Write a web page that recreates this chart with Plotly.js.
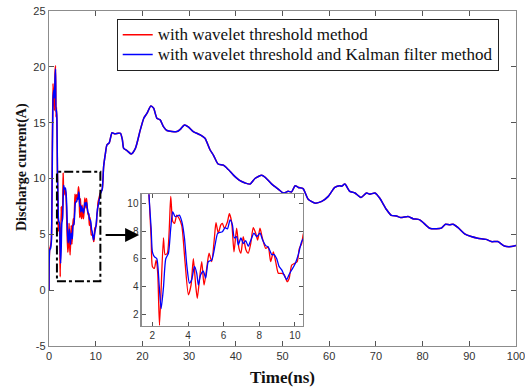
<!DOCTYPE html>
<html>
<head>
<meta charset="utf-8">
<script src="https://cdn.plot.ly/plotly-3.0.1.min.js"></script>
<style>html,body{margin:0;padding:0;background:#fff;}#chart{width:525px;height:388px;}</style>
</head>
<body>
<div id="chart"></div>
<script>
// ---- data ----
const seriesNames = ["with wavelet threshold method", "with wavelet threshold and Kalman filter method"];
const xTitle = "Time(ns)";
const yTitle = "Discharge current(A)";

// initial spike (0 - 1.7 ns)
const tEarly    = [0, 0.15, 0.3, 0.5, 0.65, 0.85, 1.0, 1.15, 1.3, 1.4, 1.5, 1.6, 1.7];
const redEarly  = [0, 3.7, 3.9, 4.5, 9.0, 18.5, 17.5, 16.1, 19.5, 20.1, 15.5, 16.4, 14.6];
const blueEarly = [0, 3.6, 3.7, 4.3, 8.5, 17.0, 17.9, 17.2, 19.0, 19.8, 16.0, 16.2, 15.3];

// oscillating region (zoomed in the inset), red series
const tRedMid = [1.81, 1.93, 2.0, 2.11, 2.21, 2.3, 2.4, 2.62, 2.71, 2.84, 3.03, 3.14, 3.24, 3.37, 3.5, 3.65, 3.83, 4.02, 4.17, 4.3, 4.43, 4.52, 4.67, 4.77, 4.9, 5.05, 5.18, 5.33, 5.48, 5.57, 5.7, 5.84, 5.93, 6.04, 6.21, 6.32, 6.45, 6.58, 6.73, 6.86, 6.97, 7.1, 7.25, 7.38, 7.52, 7.66, 7.8, 7.91, 8.04, 8.17, 8.36, 8.5, 8.64, 8.79, 8.92, 9.07, 9.26, 9.4, 9.57, 9.68, 9.82, 9.96, 10.13, 10.25, 10.38, 10.49, 10.75, 11.0];
const redMid  = [10.6, 7.5, 5.45, 5.3, 5.9, 4.95, 1.2, 7.5, 6.3, 6.4, 10.5, 8.7, 8.55, 9.15, 8.9, 8.4, 5.8, 3.4, 4.1, 6.0, 4.1, 3.15, 4.85, 5.8, 4.1, 5.3, 6.4, 5.8, 7.5, 8.6, 7.85, 8.45, 8.55, 8.2, 8.65, 9.25, 8.65, 6.5, 8.2, 6.75, 6.4, 7.6, 6.65, 6.4, 7.1, 8.25, 7.85, 7.35, 8.2, 7.5, 6.75, 6.85, 5.8, 6.5, 5.8, 4.95, 4.95, 4.85, 4.35, 4.6, 5.55, 5.65, 5.8, 6.75, 7.1, 7.85, 8.3, 8.7];

// oscillating region (zoomed in the inset), blue series
const tBlueMid = [1.81, 1.93, 2.0, 2.11, 2.25, 2.38, 2.49, 2.62, 2.75, 2.9, 3.03, 3.14, 3.27, 3.4, 3.51, 3.65, 3.8, 3.93, 4.08, 4.21, 4.36, 4.49, 4.58, 4.71, 4.86, 4.99, 5.14, 5.33, 5.52, 5.67, 5.93, 6.08, 6.21, 6.36, 6.49, 6.6, 6.73, 6.82, 6.97, 7.1, 7.24, 7.38, 7.53, 7.7, 7.86, 8.04, 8.19, 8.36, 8.5, 8.7, 8.83, 8.98, 9.11, 9.26, 9.4, 9.54, 9.67, 9.82, 10.0, 10.19, 10.38, 10.6, 11.0];
const blueMid  = [10.6, 8.2, 6.5, 6.15, 6.0, 4.1, 2.4, 3.9, 6.0, 6.4, 8.2, 9.4, 9.05, 9.1, 9.15, 8.7, 7.5, 5.55, 4.25, 4.5, 5.45, 4.95, 4.1, 4.85, 5.1, 4.6, 5.8, 5.9, 7.0, 7.85, 7.95, 8.25, 8.15, 8.8, 8.45, 7.5, 7.6, 7.0, 7.5, 7.1, 7.3, 6.9, 7.35, 7.85, 7.6, 7.85, 7.35, 6.95, 6.85, 6.3, 6.3, 6.0, 5.45, 5.2, 4.8, 4.5, 4.85, 5.2, 5.6, 6.3, 7.25, 7.7, 8.6];

// smooth decay (11.4 - 100 ns), both methods coincide
const tTail = [11.4, 11.7, 12.1, 12.4, 12.9, 13.5, 14.1, 14.8, 15.3, 15.7, 16.0, 16.7, 17.6, 18.5, 19.55, 20.3, 21.0, 21.8, 22.4, 23.1, 23.8, 24.5, 25.25, 27.4, 28.1, 29.0, 29.9, 30.9, 32.4, 33.4, 34.5, 35.2, 36.2, 37.35, 38.4, 39.5, 40.9, 42.0, 43.05, 44.1, 45.55, 46.3, 47.7, 49.1, 50.2, 51.2, 51.95, 52.7, 53.4, 54.4, 55.5, 56.9, 58.4, 59.8, 61.2, 62.3, 62.65, 63.35, 64.4, 65.5, 66.8, 68.0, 68.7, 69.8, 70.8, 72.3, 73.3, 74.4, 75.3, 76.9, 77.95, 79.4, 81.5, 82.95, 84.0, 84.9, 85.8, 86.5, 87.6, 89.0, 90.4, 91.8, 93.6, 94.7, 96.1, 97.5, 99.0, 100];
const iTail = [9.05, 11.07, 12.3, 13.0, 13.2, 14.1, 14.0, 14.05, 14.05, 13.5, 12.7, 12.5, 12.2, 12.7, 14.35, 15.4, 15.85, 16.5, 16.3, 15.4, 15.25, 14.65, 14.3, 14.2, 14.4, 14.8, 14.6, 14.2, 13.9, 13.6, 12.55, 12.1, 11.3, 11.2, 10.8, 10.3, 9.8, 9.6, 9.5, 10.0, 10.3, 10.1, 9.5, 9.05, 8.7, 8.85, 8.8, 9.35, 9.2, 9.1, 8.15, 7.8, 7.95, 8.4, 9.2, 9.35, 9.3, 9.5, 8.85, 8.7, 8.3, 8.7, 8.6, 8.7, 8.25, 7.2, 6.7, 6.65, 6.5, 6.6, 6.4, 6.3, 5.55, 5.5, 5.55, 5.9, 5.85, 5.9, 5.6, 5.05, 4.8, 4.65, 4.55, 4.35, 4.35, 3.95, 3.9, 4.0];

const xTicks = [0, 10, 20, 30, 40, 50, 60, 70, 80, 90, 100];
const yTicks = [-5, 0, 5, 10, 15, 20, 25];
const insetTicks = [2, 4, 6, 8, 10];
const zoomBox = {x: [1.7, 11.0], y: [0.8, 10.6]};
const arrowX = [11.8, 19.3], arrowY = 4.95;

// ---- build full series ----
const tRed = tEarly.concat(tRedMid, tTail);
const iRed = redEarly.concat(redMid, iTail);
const tBlue = tEarly.concat(tBlueMid, tTail);
const iBlue = blueEarly.concat(blueMid, iTail);

const RED = '#ff0000', BLUE = '#0000ff';
const serif = '"Liberation Serif", "Times New Roman", serif';
const sans = '"Liberation Sans", Arial, sans-serif';
const axisGray = '#8c8c8c';
const legendLabel = s => '<span style="font-size:17px">' + s + '</span>';

const traces = [
  {x: tRed, y: iRed, name: legendLabel(seriesNames[0]), mode: 'lines', line: {color: RED, width: 1.5, shape: 'spline', smoothing: 0.6}, xaxis: 'x', yaxis: 'y'},
  {x: tBlue, y: iBlue, name: legendLabel(seriesNames[1]), mode: 'lines', line: {color: BLUE, width: 1.5, shape: 'spline', smoothing: 0.6}, xaxis: 'x', yaxis: 'y'},
  {x: tRed, y: iRed, showlegend: false, mode: 'lines', line: {color: RED, width: 1.3, shape: 'spline', smoothing: 0.6}, xaxis: 'x2', yaxis: 'y2'},
  {x: tBlue, y: iBlue, showlegend: false, mode: 'lines', line: {color: BLUE, width: 1.3, shape: 'spline', smoothing: 0.6}, xaxis: 'x2', yaxis: 'y2'}
];

const baseAxis = {
  showgrid: false, zeroline: false, showline: true, linecolor: axisGray, linewidth: 1.2,
  mirror: 'ticks', ticks: 'inside', tickcolor: '#555', ticklen: 5, tickwidth: 1,
  ticklabeloverflow: 'allow',
  tickfont: {family: sans, size: 11, color: '#333'}
};

const layout = {
  width: 525, height: 388,
  margin: {l: 49, r: 9, t: 11, b: 42},
  paper_bgcolor: '#fff', plot_bgcolor: '#fff',
  showlegend: true,
  legend: {
    x: 0.145, y: 0.977, xanchor: 'left', yanchor: 'top',
    bgcolor: '#fff', bordercolor: '#222', borderwidth: 1,
    font: {family: serif, size: 13, color: '#111'},
    tracegroupgap: 0, itemwidth: 30
  },
  xaxis: Object.assign({}, baseAxis, {
    domain: [0, 1], range: [0, 100], tickvals: xTicks, ticktext: xTicks.map(String),
    title: {text: '<b>' + xTitle + '</b>', font: {family: serif, size: 17, color: '#111'}, standoff: 9}
  }),
  yaxis: Object.assign({}, baseAxis, {
    domain: [0, 1], range: [-5, 25], tickvals: yTicks, ticktext: yTicks.map(String)
  }),
  xaxis2: Object.assign({}, baseAxis, {
    domain: [0.1985, 0.5445], range: [1.4, 10.47], anchor: 'y2',
    tickvals: insetTicks, ticktext: insetTicks.map(String), ticklen: 4,
    tickfont: {family: sans, size: 10, color: '#333'}
  }),
  yaxis2: Object.assign({}, baseAxis, {
    domain: [0.0597, 0.4528], range: [1.15, 10.65], anchor: 'x2',
    tickvals: insetTicks, ticktext: insetTicks.map(String), ticklen: 4,
    tickfont: {family: sans, size: 10, color: '#333'}
  }),
  shapes: [
    {type: 'rect', xref: 'x', yref: 'y', x0: zoomBox.x[0], x1: zoomBox.x[1], y0: zoomBox.y[0], y1: zoomBox.y[1],
     line: {color: '#000', width: 2, dash: 'dashdot'}, fillcolor: 'rgba(0,0,0,0)', layer: 'above'}
  ],
  annotations: [
    {x: arrowX[1], y: arrowY, ax: arrowX[0], ay: arrowY, xref: 'x', yref: 'y', axref: 'x', ayref: 'y',
     text: '', showarrow: true, arrowhead: 2, arrowsize: 1.4, arrowwidth: 2, arrowcolor: '#000', standoff: 0},
    {text: '<b>' + yTitle + '</b>', textangle: -90, xref: 'paper', yref: 'paper', x: -0.058, y: 0.534,
     xanchor: 'center', yanchor: 'middle', showarrow: false, font: {family: serif, size: 14, color: '#111'}}
  ]
};

Plotly.newPlot('chart', traces, layout, {displayModeBar: false, staticPlot: true});
</script>
</body>
</html>
